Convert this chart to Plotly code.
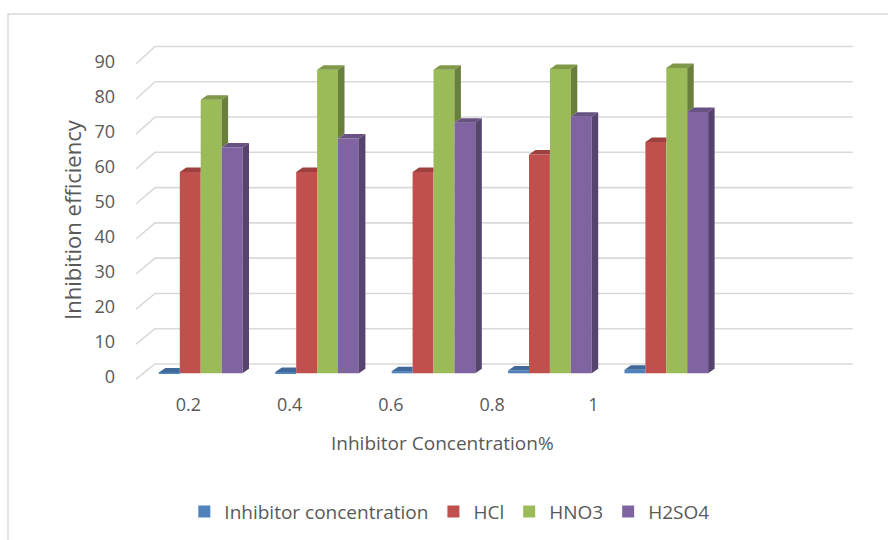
import plotly.graph_objects as go

# ---- data -------------------------------------------------------------
categories = ["0.2", "0.4", "0.6", "0.8", "1"]
inhibitor_conc = [0.2, 0.4, 0.6, 0.8, 1.0]
hcl = [57, 57, 57, 62, 65.5]
hno3 = [77.5, 86, 86, 86.2, 86.5]
h2so4 = [64, 66.5, 71, 72.7, 74]
y_ticks = [0, 10, 20, 30, 40, 50, 60, 70, 80, 90]

series_names = ["Inhibitor concentration", "HCl", "HNO3", "H2SO4"]
series_values = [inhibitor_conc, hcl, hno3, h2so4]
series_colors = ["#4F81BD", "#C0504D", "#9BBB59", "#8064A2"]

# ---- pseudo-3D geometry ---------------------------------------------------
# bar plane (x2/y2): widths and depth shifts in category / value units
W = 0.1796
DX = 0.0558
DY = 1.27
# front plane (x/y): back wall and floor-edge diagonals
WALL_X0, WALL_X1, FRONT_X = -0.3289, 6.562, -0.5165
WALL_OFF, WALL_SCALE, FRONT_OFF = 3.63, 1.008, -0.66

TEXT = "#595959"
FONT = "Open Sans"
GRID = "#D9D9D9"


def shade(hex_color, f):
    h = hex_color.lstrip("#")
    r, g, b = (int(h[i:i + 2], 16) for i in (0, 2, 4))
    return "rgb({},{},{})".format(int(r * f), int(g * f), int(b * f))


fig = go.Figure()
idx = list(range(len(categories)))
n_series = len(series_values)

# back wall gridlines + diagonals on the front-plane axes
gx, gy = [], []
for t in y_ticks:
    yb = WALL_OFF + WALL_SCALE * t
    gx += [FRONT_X, WALL_X0, WALL_X1, None]
    gy += [t + FRONT_OFF, yb, yb, None]
fig.add_trace(go.Scatter(x=gx, y=gy, mode="lines", xaxis="x", yaxis="y",
                         line=dict(color=GRID, width=1.6),
                         showlegend=False, hoverinfo="skip"))

# front faces as bars
for k, (name, vals, col) in enumerate(zip(series_names, series_values, series_colors)):
    fig.add_trace(go.Bar(
        x=idx, y=vals, name=name, width=W, offset=-2 * W + k * W,
        xaxis="x2", yaxis="y2",
        marker=dict(color=col, line=dict(width=0)), showlegend=True,
    ))

# top and side faces
for k, (vals, col) in enumerate(zip(series_values, series_colors)):
    tops_x, tops_y, side_x, side_y = [], [], [], []
    for i in idx:
        v = vals[i]
        x0 = i - 2 * W + k * W
        x1 = x0 + W
        vn = series_values[k + 1][i] if k + 1 < n_series else None
        if vn is not None and vn >= v:
            px = [x0, x1, x1, x0 + DX, x0]
        else:
            px = [x0, x1, x1 + DX, x0 + DX, x0]
        py = [v, v, v + DY, v + DY, v]
        tops_x += px + [None]
        tops_y += py + [None]
        if vn is None:
            lo = 0
        elif vn < v:
            lo = vn
        else:
            continue
        side_x += [x1, x1 + DX, x1 + DX, x1, x1, None]
        side_y += [lo, lo + DY, v + DY, v, lo, None]
    fig.add_trace(go.Scatter(
        x=tops_x, y=tops_y, mode="lines", fill="toself", xaxis="x2", yaxis="y2",
        fillcolor=shade(col, 0.82), line=dict(width=0, color=shade(col, 0.82)),
        showlegend=False, hoverinfo="skip",
    ))
    if side_x:
        fig.add_trace(go.Scatter(
            x=side_x, y=side_y, mode="lines", fill="toself", xaxis="x2", yaxis="y2",
            fillcolor=shade(col, 0.68), line=dict(width=0, color=shade(col, 0.68)),
            showlegend=False, hoverinfo="skip",
        ))

# chart frame
shapes = [dict(type="rect", xref="paper", yref="paper",
               x0=8 / 888, x1=1.02, y0=-0.45, y1=(395 - 14) / 375,
               line=dict(color=GRID, width=1.5), fillcolor="rgba(0,0,0,0)")]

hidden = dict(showgrid=False, zeroline=False, showline=False,
              showticklabels=False, ticks="", fixedrange=True)

fig.update_layout(
    width=888, height=540,
    margin=dict(l=0, r=0, t=20, b=145),
    paper_bgcolor="white", plot_bgcolor="white",
    barmode="overlay",
    shapes=shapes,
    font=dict(family=FONT, color=TEXT, size=18),
    xaxis=dict(range=[-1.8598, 6.9106], tickmode="array",
               tickvals=idx, ticktext=categories, ticks="",
               ticklabelstandoff=-3,
               showgrid=False, zeroline=False, showline=False, fixedrange=True,
               tickfont=dict(family=FONT, color=TEXT, size=18)),
    yaxis=dict(range=[-5.229, 101.914], anchor="free", position=115 / 888,
               side="left", tickmode="array",
               tickvals=y_ticks, ticktext=[str(t) for t in y_ticks], ticks="",
               showgrid=False, zeroline=False, showline=False, fixedrange=True,
               tickfont=dict(family=FONT, color=TEXT, size=18)),
    xaxis2=dict(overlaying="x", anchor="y2", range=[-1.7242, 5.9046], **hidden),
    yaxis2=dict(overlaying="y", anchor="x2", range=[-6.147, 100.085], **hidden),
    legend=dict(orientation="h", x=0.506, xanchor="center",
                y=(395 - 511.7) / 375, yanchor="middle",
                font=dict(family=FONT, color=TEXT, size=19),
                traceorder="normal", bgcolor="rgba(0,0,0,0)"),
    annotations=[
        dict(text="Inhibitor Concentration%", xref="paper", yref="paper",
             x=442.5 / 888, y=(395 - 443) / 375, showarrow=False,
             xanchor="center", yanchor="middle",
             font=dict(family=FONT, color=TEXT, size=19)),
        dict(text="Inhibition efficiency", xref="paper", yref="paper",
             x=72 / 888, y=(395 - 220) / 375, showarrow=False, textangle=-90,
             xanchor="center", yanchor="middle",
             font=dict(family=FONT, color=TEXT, size=22)),
    ],
)

fig.write_html("out.html")
